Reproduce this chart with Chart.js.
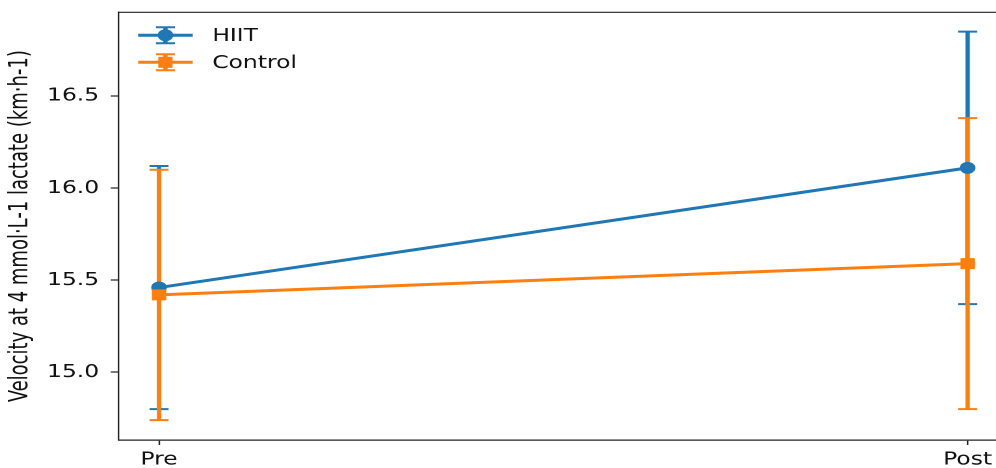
<!DOCTYPE html>
<html>
<head>
<meta charset="utf-8">
<script src="https://cdn.jsdelivr.net/npm/chart.js@4.4.1/dist/chart.umd.min.js"></script>
<style>
  html,body{margin:0;padding:0;background:#fff;overflow:hidden;width:996px;height:468px;}
  #c{display:block;}
</style>
</head>
<body>
<!-- la imagen de referencia está estirada en horizontal y recortada a la derecha -->
<canvas id="c" width="775" height="468" style="width:1007.5px;height:468px"></canvas>
<script>
// datos
const groups=['Pre','Post'];
const seriesNames=['HIIT','Control'];
const hiitMean=[15.46,16.11];
const hiitErr=[0.66,0.74];
const ctrlMean=[15.42,15.59];
const ctrlErr=[0.68,0.79];
const yTicks=[15.0,15.5,16.0,16.5];

const BLUE='#1f77b4', ORANGE='#ff7f0e';
const tickFont={family:'DejaVu Sans',size:18};

const toPts=m=>m.map((v,i)=>({x:i,y:v}));

/* ---------- barras de error (debajo de las líneas, como matplotlib) */
const errorBars={
  id:'errorBars',
  beforeDatasetsDraw(chart){
    const {ctx,scales:{x,y}}=chart;
    const errs=[hiitErr,ctrlErr];
    ctx.save();
    chart.data.datasets.forEach((ds,k)=>{
      const m=ds.means, e=errs[k];
      ctx.strokeStyle=ds.borderColor;
      m.forEach((v,i)=>{
        const px=x.getPixelForValue(i), t=y.getPixelForValue(v+e[i]), b=y.getPixelForValue(v-e[i]);
        ctx.lineWidth=3.3;
        ctx.beginPath();ctx.moveTo(px,t);ctx.lineTo(px,b);ctx.stroke();
        ctx.lineWidth=2;
        ctx.beginPath();
        ctx.moveTo(px-7.3,t);ctx.lineTo(px+7.3,t);
        ctx.moveTo(px-7.3,b);ctx.lineTo(px+7.3,b);
        ctx.stroke();
      });
    });
    ctx.restore();
  }
};

/* ---------- marco superior + leyenda */
const frameLegend={
  id:'frameLegend',
  afterDraw(chart){
    const {ctx,chartArea:a}=chart;
    ctx.save();
    ctx.strokeStyle='#222';ctx.lineWidth=1.2;
    ctx.beginPath();ctx.moveTo(a.left,a.top);ctx.lineTo(a.right,a.top);ctx.stroke();
    chart.data.datasets.forEach((ds,k)=>{
      const yy=a.top+23+k*27, x0=a.left+15, x1=a.left+57, xm=(x0+x1)/2;
      ctx.strokeStyle=ds.borderColor;ctx.fillStyle=ds.borderColor;
      ctx.lineWidth=3;
      ctx.beginPath();ctx.moveTo(x0,yy);ctx.lineTo(x1,yy);ctx.stroke();
      ctx.lineWidth=3.3;
      ctx.beginPath();ctx.moveTo(xm,yy-8);ctx.lineTo(xm,yy+8);ctx.stroke();
      ctx.lineWidth=2;
      ctx.beginPath();
      ctx.moveTo(xm-7.3,yy-8);ctx.lineTo(xm+7.3,yy-8);
      ctx.moveTo(xm-7.3,yy+8);ctx.lineTo(xm+7.3,yy+8);
      ctx.stroke();
      if(ds.pointStyle==='circle'){ctx.beginPath();ctx.arc(xm,yy,6,0,Math.PI*2);ctx.fill();}
      else ctx.fillRect(xm-5.5,yy-5.5,11,11);
      ctx.fillStyle='#111';
      ctx.font='18px "DejaVu Sans"';
      ctx.textBaseline='middle';
      ctx.fillText(ds.label,a.left+72,yy+1);
    });
    ctx.restore();
  }
};

new Chart(document.getElementById('c'),{
  type:'line',
  data:{datasets:[
    {label:seriesNames[0],data:toPts(hiitMean),means:hiitMean,borderColor:BLUE,backgroundColor:BLUE,
     borderWidth:3,pointStyle:'circle',pointRadius:6,pointBorderWidth:0,pointBackgroundColor:BLUE,tension:0,order:2},
    {label:seriesNames[1],data:toPts(ctrlMean),means:ctrlMean,borderColor:ORANGE,backgroundColor:ORANGE,
     borderWidth:3,pointStyle:'rect',pointRadius:7.8,pointBorderWidth:0,pointBackgroundColor:ORANGE,tension:0,order:1}
  ]},
  options:{
    responsive:false,animation:false,devicePixelRatio:2,
    // autoPadding reservaba espacio para los marcadores y achicaba el área
    layout:{autoPadding:false,padding:{top:12.3,left:0,right:0,bottom:0}},
    plugins:{legend:{display:false},tooltip:{enabled:false}},
    scales:{
      x:{type:'linear',min:-0.05,max:1.05,
        afterBuildTicks:s=>{s.ticks=groups.map((g,i)=>({value:i}));},
        afterFit:s=>{s.height=28;},
        ticks:{font:tickFont,color:'#111',padding:4,maxRotation:0,callback:v=>groups[v]},
        grid:{drawOnChartArea:false,drawTicks:true,tickLength:5,tickColor:'#222',tickWidth:1.2},
        border:{color:'#222',width:1.2}},
      y:{min:14.632,max:16.955,
        afterBuildTicks:s=>{s.ticks=yTicks.map(v=>({value:v}));},
        afterFit:s=>{s.width=91.2;s.paddingTop=0;s.paddingBottom=0;},
        ticks:{font:tickFont,color:'#111',padding:9,callback:v=>v.toFixed(1)},
        grid:{drawOnChartArea:false,drawTicks:true,tickLength:6,tickColor:'#222',tickWidth:1.2},
        border:{color:'#222',width:1.2},
        title:{display:true,text:'Velocity at 4 mmol·L-1 lactate (km·h-1)',color:'#111',
          font:{family:'"DejaVu Sans Condensed", Lato',size:20},padding:{top:4,bottom:0}}}
    }
  },
  plugins:[errorBars,frameLegend]
});
</script>
</body>
</html>
